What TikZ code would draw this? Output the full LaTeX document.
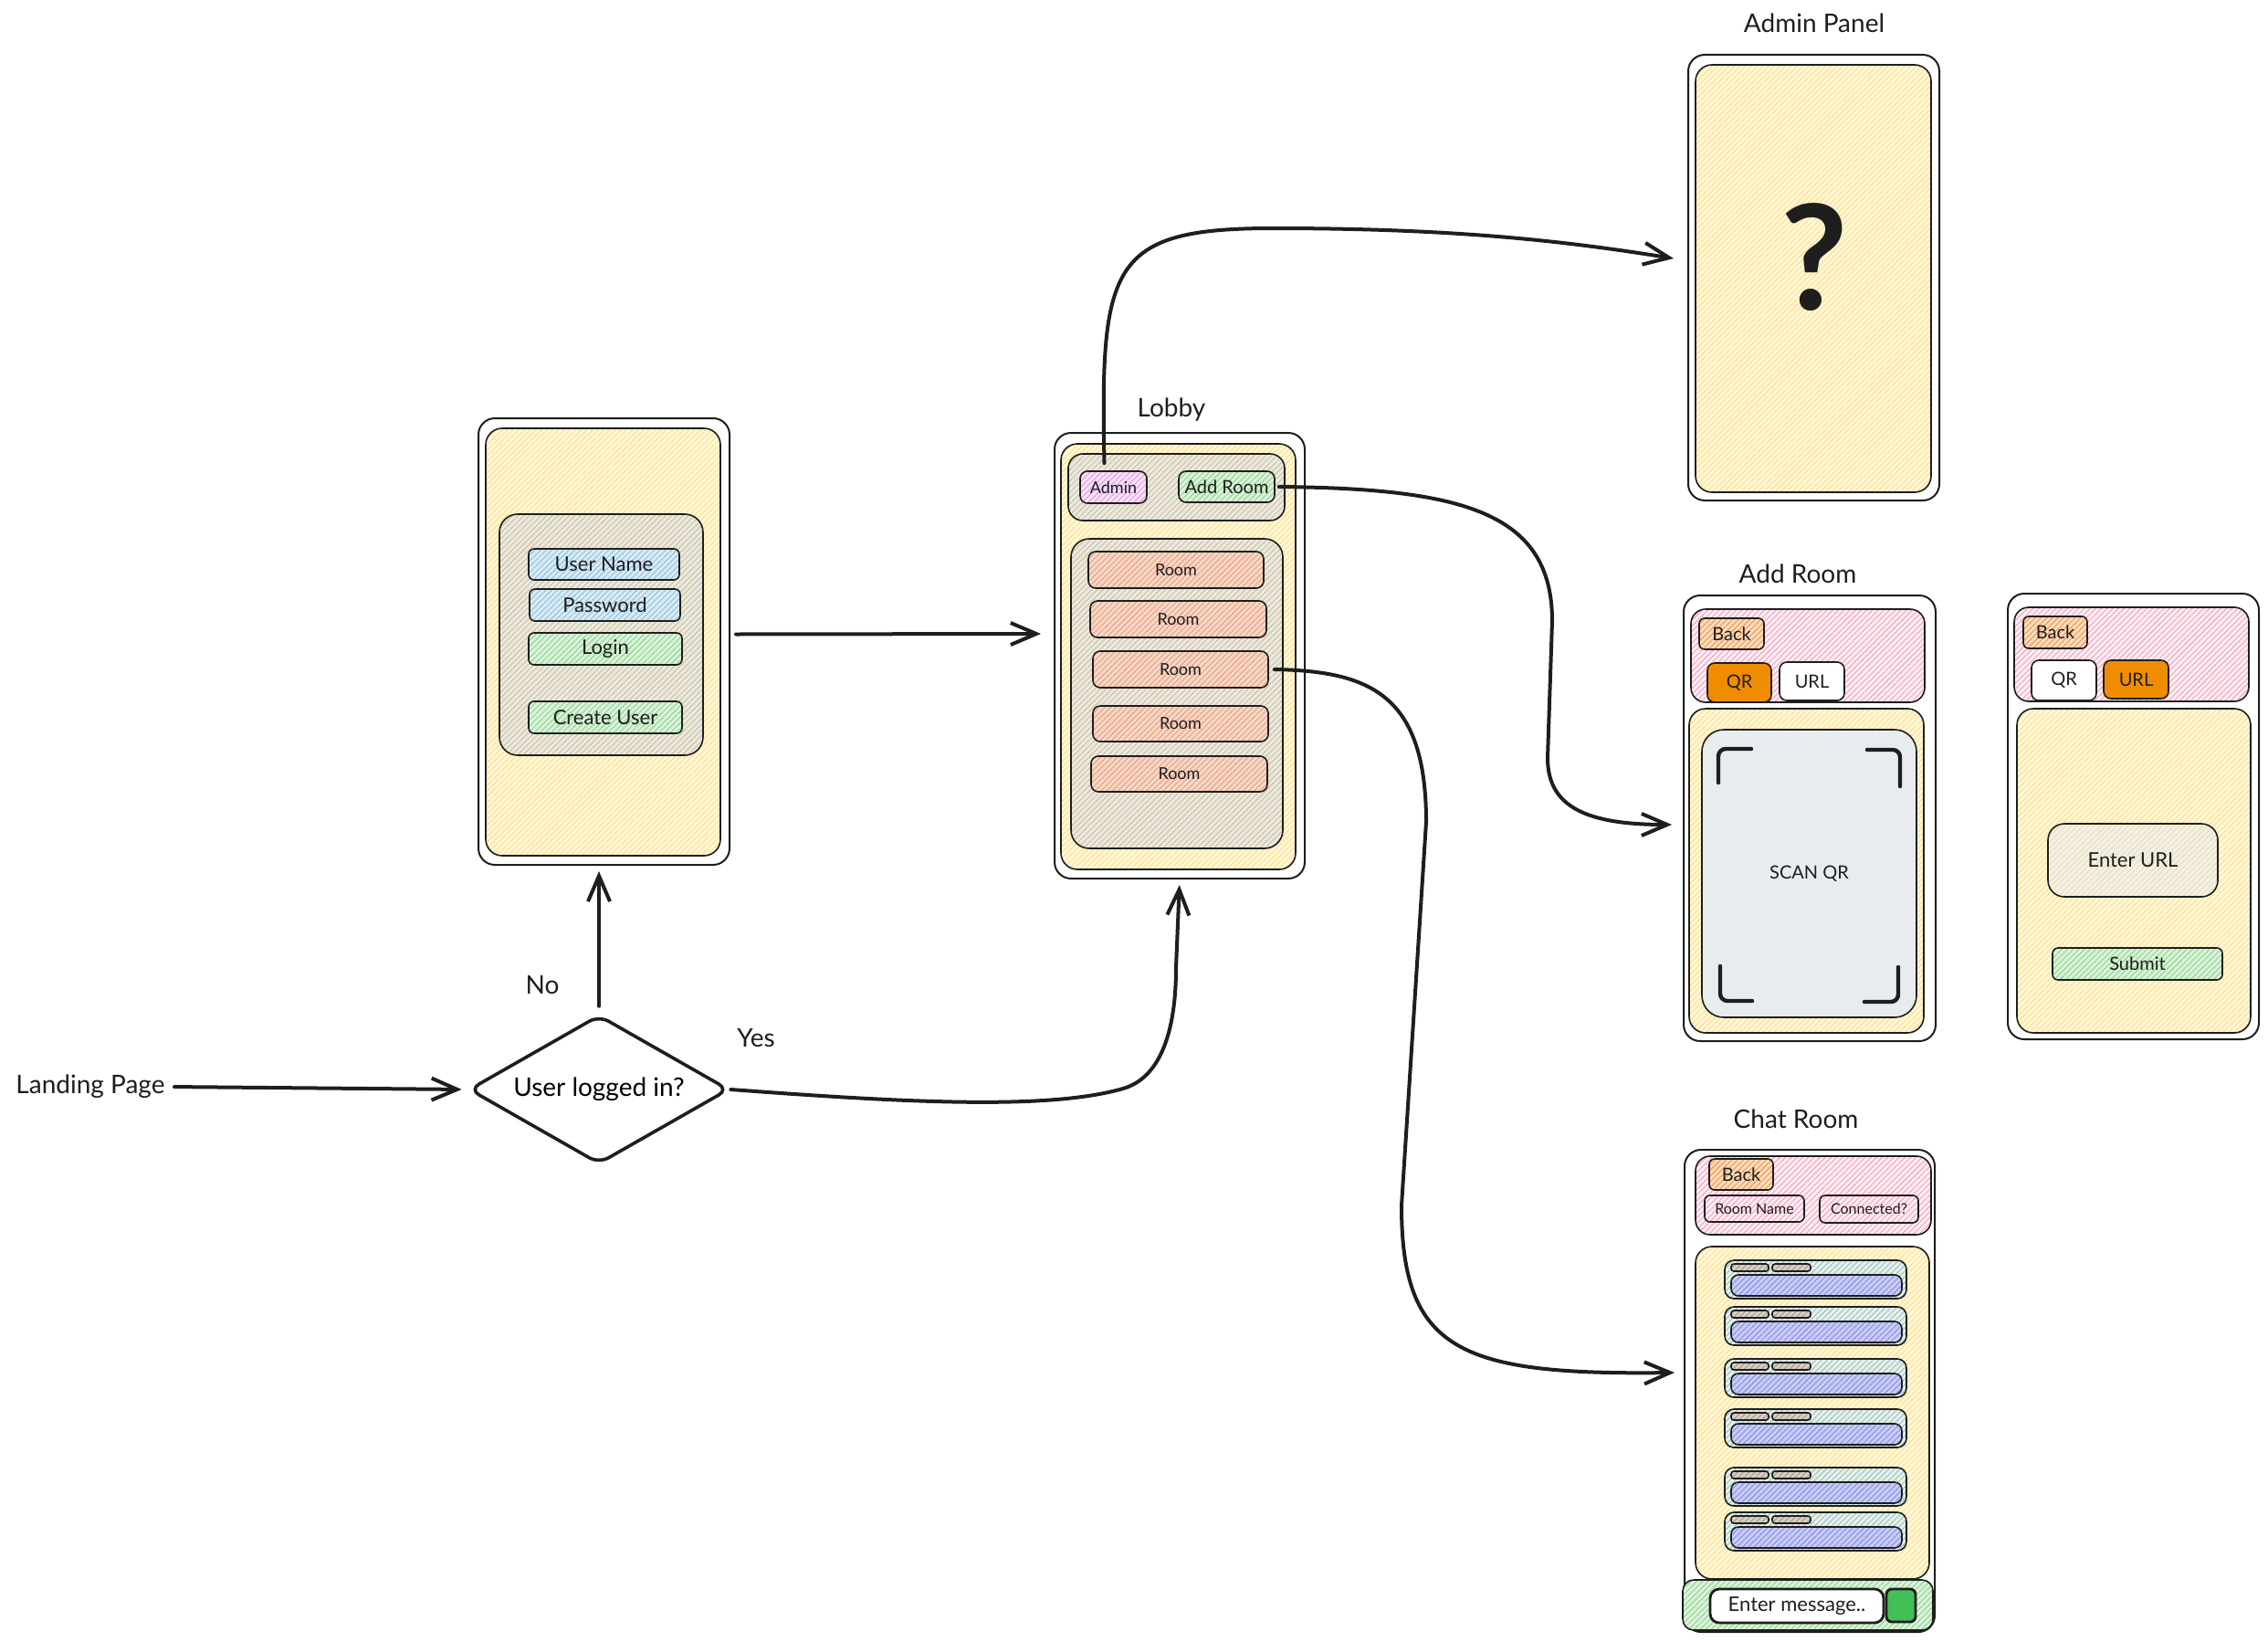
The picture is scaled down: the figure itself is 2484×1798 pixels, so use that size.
\documentclass[tikz,border=0pt]{standalone}
\usepackage{fontspec}
\setmainfont{Lato}
\usetikzlibrary{fit,calc,shapes.geometric,arrows.meta,patterns.meta}
\definecolor{ink}{HTML}{1E1E1E}
\definecolor{ybg}{HTML}{FFF8DC}\definecolor{yln}{HTML}{FFE08A}
\definecolor{gbg}{HTML}{EEEADB}\definecolor{gln}{HTML}{C8C2B0}
\definecolor{bbg}{HTML}{DCEBF0}\definecolor{bln}{HTML}{8EC5EA}
\definecolor{gnbg}{HTML}{DDF2D8}\definecolor{gnln}{HTML}{8ED89A}
\definecolor{rbg}{HTML}{F4D9C6}\definecolor{rln}{HTML}{EE9F88}
\definecolor{pbg}{HTML}{F8E3F4}\definecolor{pln}{HTML}{E0A0EA}
\definecolor{pkbg}{HTML}{FDEEF3}\definecolor{pkln}{HTML}{F5A7C3}
\definecolor{obg}{HTML}{FBDDBF}\definecolor{oln}{HTML}{F39A52}
\definecolor{org}{HTML}{F08C00}
\definecolor{qrg}{HTML}{E9ECEF}
\definecolor{lbg}{HTML}{C9CCF4}\definecolor{lln}{HTML}{8A93E6}
\definecolor{mbg}{HTML}{EEF0DA}
\definecolor{sbg}{HTML}{D9CFC3}\definecolor{sln}{HTML}{A89C8E}
\definecolor{ubg}{HTML}{F5F1E2}\definecolor{uln}{HTML}{E6DFC6}
\definecolor{gsq}{HTML}{40C057}
\newcommand\fsz[1]{\fontsize{#1}{#1}\selectfont}
\tikzset{
  hat/.style 2 args={preaction={fill=#1}, pattern={Lines[angle=45,distance=2.2pt,line width=0.55pt]}, pattern color=#2},
  rb/.style={draw=ink, line width=0.8pt, rounded corners=#1, inner sep=0pt},
  rb/.default=4pt,
  phone/.style={rb=9pt, line width=1pt, fill=white},
  scr/.style={rb=9pt, hat={ybg}{yln}},
  title/.style={font=\fsz{14}, text=ink, inner sep=2pt},
  t8/.style={label={[font=\fsz{8},text=ink,inner sep=0pt]center:#1}},
  t9/.style={label={[font=\fsz{9},text=ink,inner sep=0pt]center:#1}},
  t10/.style={label={[font=\fsz{10},text=ink,inner sep=0pt]center:#1}},
  t11/.style={label={[font=\fsz{11},text=ink,inner sep=0pt]center:#1}},
  conn/.style={draw=ink, line width=2pt, line cap=round, -{Straight Barb[length=14pt,width=12pt]}},
  brk/.style={draw=ink, line width=2.2pt, line cap=round, rounded corners=4pt},
}
\begin{document}
\begin{tikzpicture}[x=0.5pt,y=-0.5pt]
\useasboundingbox (0,0) rectangle (2484,1798);

% ---------- decision ----------
\node[title] (landing) at (99,1190) {Landing Page};
\node[diamond, draw=ink, line width=1.8pt, rounded corners=6pt, aspect=1.75,
      minimum width=142.5pt, minimum height=81.5pt, inner sep=0pt, fill=white,
      font=\fsz{14}] (dec) at (656,1193) {User logged in?};
\node[title] (nolab) at (594,1079) {No};
\node[title] (yeslab) at (828,1137) {Yes};

% ---------- login ----------
\node[phone, fit={(524,458)(799,947)}] (login) {};
\node[scr, fit={(532,469)(789,937)}] (loginin) {};
\node[rb=10pt, hat={gbg}{gln}, fit={(547,563)(770,827)}] (form) {};
\node[rb=3pt, hat={bbg}{bln}, fit={(579,601)(744,635)}, t11=User Name] (uname) {};
\node[rb=3pt, hat={bbg}{bln}, fit={(580,645)(745,680)}, t11=Password] (pwd) {};
\node[rb=3pt, hat={gnbg}{gnln}, fit={(579,693)(747,728)}, t11=Login] (loginbtn) {};
\node[rb=3pt, hat={gnbg}{gnln}, fit={(579,768)(747,803)}, t11=Create User] (create) {};

% ---------- lobby ----------
\node[title] (lobbylab) at (1283,449) {Lobby};
\node[phone, fit={(1155,474)(1429,962)}] (lobby) {};
\node[scr, fit={(1162,486)(1419,952)}] (lobbyin) {};
\node[rb=8pt, hat={gbg}{gln}, fit={(1170,497)(1407,570)}] (topbar) {};
\node[rb=4pt, hat={pbg}{pln}, fit={(1183,516)(1256,551)}, t9=Admin] (admin) {};
\node[rb=4pt, hat={gnbg}{gnln}, fit={(1291,516)(1396,550)}, t10=Add Room] (addroombtn) {};
\node[rb=10pt, hat={gbg}{gln}, fit={(1173,590)(1405,929)}] (roomlist) {};
\node[rb=4pt, hat={rbg}{rln}, fit={(1192,604)(1384,644)}, t9=Room] (room1) {};
\node[rb=4pt, hat={rbg}{rln}, fit={(1194,658)(1387,698)}, t9=Room] (room2) {};
\node[rb=4pt, hat={rbg}{rln}, fit={(1197,713)(1389,753)}, t9=Room] (room3) {};
\node[rb=4pt, hat={rbg}{rln}, fit={(1197,773)(1389,812)}, t9=Room] (room4) {};
\node[rb=4pt, hat={rbg}{rln}, fit={(1195,828)(1388,867)}, t9=Room] (room5) {};

% ---------- admin panel ----------
\node[title] (adminlab) at (1987,25) {Admin Panel};
\node[phone, fit={(1849,60)(2124,548)}] (adminp) {};
\node[scr, fit={(1857,71)(2115,539)}] (adminpin) {};
\node[font=\fsz{80}\bfseries, text=ink] (qmark) at (1987,282) {?};

% ---------- add room (QR) ----------
\node[title] (addlab) at (1969,628) {Add Room};
\node[phone, fit={(1844,652)(2120,1140)}] (addr) {};
\node[rb=8pt, hat={pkbg}{pkln}, fit={(1852,667)(2108,769)}] (addrbar) {};
\node[rb=3pt, hat={obg}{oln}, fit={(1861,677)(1932,711)}, t10=Back] (addrback) {};
\node[rb=4pt, fill=org, fit={(1870,726)(1940,769)}, t10=QR] (addrqr) {};
\node[rb=4pt, fill=white, fit={(1949,725)(2020,767)}, t10=URL] (addrurl) {};
\node[scr, fit={(1850,776)(2107,1131)}] (addrbody) {};
\node[rb=12pt, fill=qrg, fit={(1864,799)(2099,1114)}, t10=SCAN QR] (scan) {};
\draw[brk] (1882,857) -- (1882,820) -- (1918,820);
\draw[brk] (2045,821) -- (2081,821) -- (2081,861);
\draw[brk] (1884,1058) -- (1884,1096) -- (1919,1096);
\draw[brk] (2042,1097) -- (2079,1097) -- (2079,1059);

% ---------- add room (URL) ----------
\node[phone, fit={(2199,650)(2474,1138)}] (addu) {};
\node[rb=8pt, hat={pkbg}{pkln}, fit={(2206,665)(2463,768)}] (addubar) {};
\node[rb=3pt, hat={obg}{oln}, fit={(2216,675)(2286,710)}, t10=Back] (auback) {};
\node[rb=4pt, fill=white, fit={(2225,723)(2296,767)}, t10=QR] (auqr) {};
\node[rb=4pt, fill=org, fit={(2304,723)(2375,765)}, t10=URL] (auurl) {};
\node[scr, fit={(2209,776)(2465,1131)}] (aubody) {};
\node[rb=9pt, hat={ubg}{uln}, fit={(2243,902)(2429,982)}, t11=Enter URL] (enterurl) {};
\node[rb=3pt, hat={gnbg}{gnln}, fit={(2248,1038)(2434,1073)}, t10=Submit] (submit) {};

% ---------- chat room ----------
\node[title] (chatlab) at (1967,1225) {Chat Room};
\node[phone, fit={(1845,1259)(2119,1787)}] (chat) {};
\node[rb=8pt, hat={pkbg}{pkln}, fit={(1857,1266)(2115,1352)}] (chatbar) {};
\node[rb=3pt, hat={obg}{oln}, fit={(1872,1269)(1942,1303)}, t10=Back] (chatback) {};
\node[rb=3pt, fit={(1867,1309)(1976,1338)}, t8=Room Name] (roomname) {};
\node[rb=3pt, fit={(1993,1309)(2101,1339)}, t8=Connected?] (connected) {};
\node[scr, fit={(1857,1365)(2113,1729)}] (chatbody) {};
\foreach \t [count=\i] in {1380,1431,1488,1543,1607,1656} {
  \node[rb=5pt, hat={mbg}{bln}, fit={(1889,\t)(2088,{\t+42})}] (msg\i) {};
  \node[rb=1.5pt, hat={sbg}{sln}, fit={(1896,{\t+4})(1937,{\t+12})}] (msgA\i) {};
  \node[rb=1.5pt, hat={sbg}{sln}, fit={(1941,{\t+4})(1983,{\t+12})}] (msgB\i) {};
  \node[rb=4pt, hat={lbg}{lln}, fit={(1896,{\t+16})(2083,{\t+39})}] (msgC\i) {};
}
\node[rb=6pt, hat={gnbg}{gnln}, fit={(1843,1730)(2117,1785)}] (chatfoot) {};
\node[rb=5pt, line width=1.4pt, fill=white, fit={(1873,1740)(2063,1777)}, t11=Enter message..] (entermsg) {};
\node[rb=3pt, line width=1.4pt, fill=gsq, fit={(2066,1740)(2098,1776)}] (send) {};

% ---------- connectors ----------
\draw[conn, shorten <=3pt, shorten >=3pt] (landing.east) -- (dec.west);
\draw[conn, shorten <=4pt, shorten >=3pt] (dec.north) -- (dec.north |- login.south);
\draw[conn, shorten >=3pt] (dec.east) .. controls (1000,1208) and (1150,1215) .. (1230,1192)
   .. controls (1275,1179) and (1288,1120) .. (1288,1060) -- (lobby.south);
\draw[conn] ($(login.east)+(6,-8)$) -- ($(lobby.west)+(-14,-24)$);
\draw[conn] ($(admin.north)+(-10,-8)$) .. controls (1205,290) and (1215,250) .. (1394,250)
   .. controls (1600,250) and (1720,265) .. ($(adminp.west)+(-15,-21)$);
\draw[conn] ($(addroombtn.east)+(4,0)$) .. controls (1600,535) and (1700,560) .. (1700,680)
   -- (1695,830) .. controls (1695,885) and (1740,903) .. ($(addr.west)+(-12,7)$);
\draw[conn] ($(room3.east)+(6,0)$) .. controls (1500,735) and (1562,760) .. (1562,900)
   -- (1535,1320) .. controls (1535,1480) and (1600,1506) .. ($(chat.west)+(-10,-20)$);
\end{tikzpicture}
\end{document}
